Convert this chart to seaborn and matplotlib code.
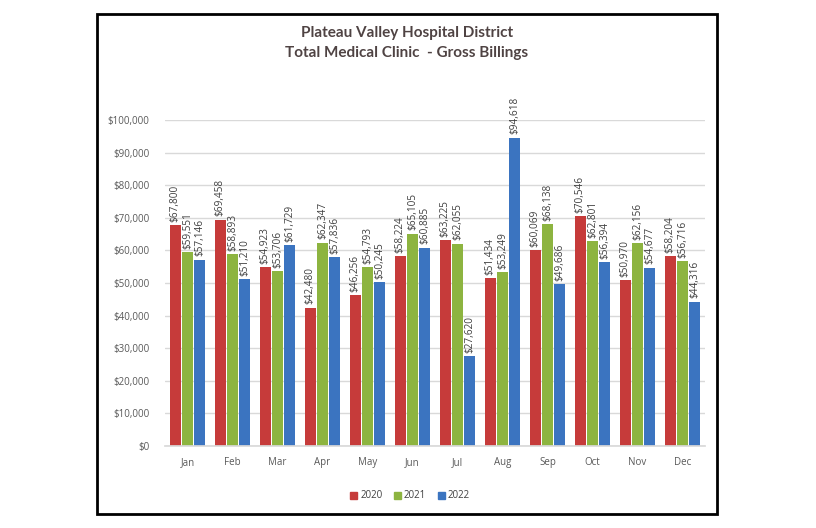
import matplotlib
matplotlib.use("Agg")
import matplotlib.pyplot as plt
import matplotlib.patches as mpatches
import seaborn as sns
import pandas as pd

months = ["Jan", "Feb", "Mar", "Apr", "May", "Jun", "Jul", "Aug", "Sep", "Oct", "Nov", "Dec"]
years = ["2020", "2021", "2022"]
v2020 = [67800, 69458, 54923, 42480, 46256, 58224, 63225, 51434, 60069, 70546, 50970, 58204]
v2021 = [59551, 58893, 53706, 62347, 54793, 65105, 62055, 53249, 68138, 62801, 62156, 56716]
v2022 = [57146, 51210, 61729, 57836, 50245, 60885, 27620, 94618, 49686, 56394, 54677, 44316]
yticks = [0, 10000, 20000, 30000, 40000, 50000, 60000, 70000, 80000, 90000, 100000]
title = "Plateau Valley Hospital District\nTotal Medical Clinic  - Gross Billings"

colors = ["#C63B3A", "#8DB440", "#3B74C0"]

df = pd.DataFrame({
    "Month": months * 3,
    "Year": [years[0]] * 12 + [years[1]] * 12 + [years[2]] * 12,
    "Value": v2020 + v2021 + v2022,
})

sns.set_theme(style="white")
plt.rcParams["font.family"] = ["Open Sans", "DejaVu Sans"]

fig = plt.figure(figsize=(8.16, 5.28), dpi=100)
ax = fig.add_axes([165 / 816, 82 / 528, 540 / 816, (446 - 120) / 528])

sns.barplot(data=df, x="Month", y="Value", hue="Year", order=months, hue_order=years,
            palette=colors, width=0.82, gap=0.12, ax=ax, legend=False,
            edgecolor="none", saturation=1)

ax.set_ylim(0, 100000)
ax.set_yticks(yticks)
ax.set_yticklabels([f"${t:,.0f}" for t in yticks], fontsize=7, color="#595959")
ax.tick_params(axis="x", labelsize=7, colors="#595959", length=0, pad=8)
ax.tick_params(axis="y", length=0, pad=11)
ax.set_xlabel("")
ax.set_ylabel("")
ax.yaxis.grid(True, color="#D9D9D9", linewidth=1)
ax.set_axisbelow(True)
for s in ["top", "right", "left"]:
    ax.spines[s].set_visible(False)
ax.spines["bottom"].set_color("#D9D9D9")
ax.set_xlim(-0.5, 11.5)

for cont in ax.containers:
    for bar in cont:
        h = bar.get_height()
        ax.text(bar.get_x() + bar.get_width() / 2, h + 1000, f"${h:,.0f}",
                rotation=90, ha="center", va="bottom", fontsize=7.2,
                color="#404040", clip_on=False)

handles = [mpatches.Patch(color=c, label=y) for c, y in zip(colors, years)]
fig.legend(handles=handles, loc="center", bbox_to_anchor=(410 / 816, 1 - 496 / 528),
           ncol=3, frameon=False, fontsize=7, handlelength=0.7, handleheight=0.7,
           handletextpad=0.3, columnspacing=1.2, labelcolor="#404040")

fig.text(407 / 816, 1 - 43 / 528, title, ha="center", va="center", fontsize=11,
         fontweight="bold", color="#4F4343", linespacing=1.6,
         family=["Lato", "DejaVu Sans"])

rect = mpatches.Rectangle((97 / 816, 14 / 528), 620 / 816, 500 / 528,
                          transform=fig.transFigure, fill=False, edgecolor="black",
                          linewidth=2)
fig.patches.append(rect)

fig.savefig("out.png", dpi=100)
